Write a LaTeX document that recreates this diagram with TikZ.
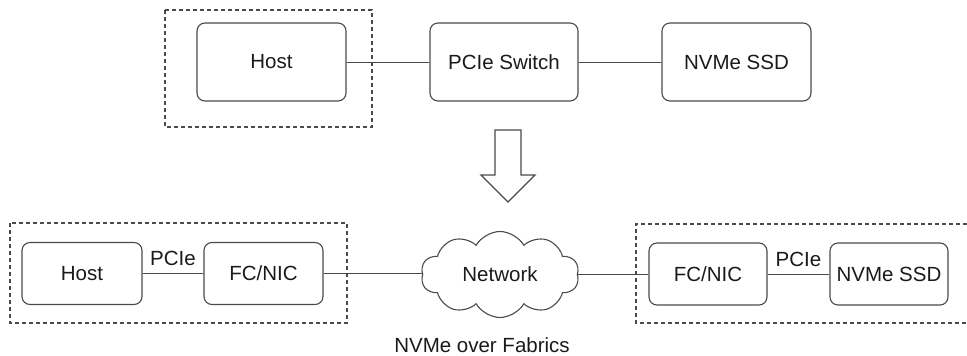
\documentclass[tikz,border=0pt]{standalone}
\usepackage{fontspec}
\setmainfont{Liberation Sans}
\usetikzlibrary{shapes.symbols}
\definecolor{linec}{HTML}{4A4A4A}
\definecolor{textc}{HTML}{1A1A1A}
\begin{document}
\begin{tikzpicture}[x=1pt,y=-1pt,
  box/.style={draw=linec,line width=1.1pt,rounded corners=8pt,inner sep=0pt,
     text=textc,font=\fontsize{20.5}{24}\selectfont},
  grp/.style={draw=linec,line width=1.1pt,dash pattern=on 4pt off 3pt},
  conn/.style={draw=linec,line width=1pt},
  lbl/.style={text=textc,font=\fontsize{20.5}{24}\selectfont,inner sep=0pt}]
\useasboundingbox (0,0) rectangle (967,356);
% top group
\draw[grp] (165,10) rectangle (372,127);
\node[box,minimum width=149pt,minimum height=78pt] (host) at (271.5,62) {Host};
\node[box,minimum width=148pt,minimum height=78pt] (sw) at (504,62) {PCIe Switch};
\node[box,minimum width=149pt,minimum height=78pt] (ssd) at (736.5,62) {NVMe SSD};
\draw[conn] (host) -- (sw);
\draw[conn] (sw) -- (ssd);
% arrow
\draw[linec,line width=1.1pt,line join=miter] (495,130) -- (521,130) -- (521,175) -- (535,175)
  -- (508,202) -- (481,175) -- (495,175) -- cycle;
% bottom left group
\draw[grp] (10,223) rectangle (347,323);
\node[box,minimum width=120pt,minimum height=62pt] (host2) at (82,273.5) {Host};
\node[box,minimum width=119pt,minimum height=62pt] (nic1) at (263.5,273.5) {FC/NIC};
\draw[conn] (host2) -- node[lbl,above=7pt] (pcie1) {PCIe} (nic1);
% cloud
\node[cloud,draw=linec,line width=1.1pt,cloud puffs=10,cloud puff arc=120,aspect=1.85,
  minimum width=158pt,minimum height=86pt,inner sep=0pt,text=textc,
  font=\fontsize{20.5}{24}\selectfont] (net) at (500,274.5) {Network};
\draw[conn] (nic1) -- (net.west |- nic1);
% bottom right group
\draw[grp] (967,224) -- (636,224) -- (636,323) -- (967,323);
\node[box,minimum width=118pt,minimum height=62pt] (nic2) at (708,274) {FC/NIC};
\node[box,minimum width=118pt,minimum height=62pt] (ssd2) at (889,274) {NVMe SSD};
\draw[conn] (net.east |- nic2) -- (nic2);
\draw[conn] (nic2) -- node[lbl,above=7pt] (pcie2) {PCIe} (ssd2);
% caption
\node[lbl] (cap) at (482,345) {NVMe over Fabrics};
\end{tikzpicture}
\end{document}
